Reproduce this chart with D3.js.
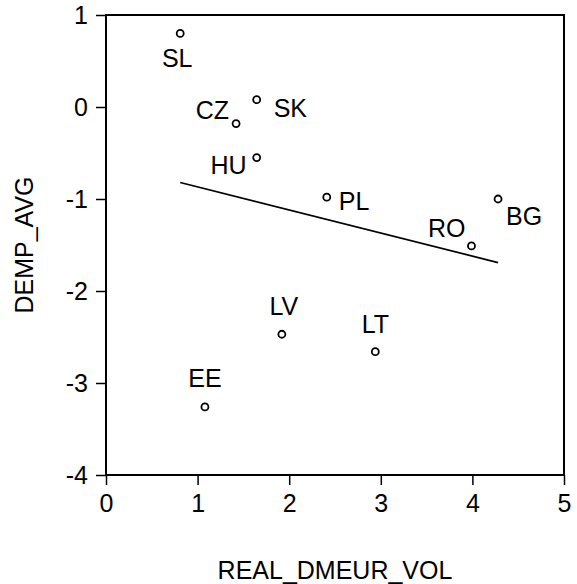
<!DOCTYPE html>
<html>
<head>
<meta charset="utf-8">
<script src="https://cdn.jsdelivr.net/npm/d3@7"></script>
<style>
  body { margin: 0; background: #fff; }
  text { font-family: "Liberation Sans", Arial, sans-serif; fill: #000; }
</style>
</head>
<body>
<svg id="chart" width="577" height="584"></svg>
<script>
// Data
let countries = ['SL', 'SK', 'CZ', 'HU', 'PL', 'BG', 'RO', 'LV', 'LT', 'EE']
let realDmeurVol = [0.81, 1.645, 1.42, 1.645, 2.41, 4.28, 3.99, 1.92, 2.94, 1.08]
let dempAvg = [0.80, 0.08, -0.18, -0.55, -0.98, -1.00, -1.51, -2.47, -2.66, -3.26]
let xTicks = [0, 1, 2, 3, 4, 5]
let yTicks = [1, 0, -1, -2, -3, -4]

// where each label sits relative to its point
let labelPlace = {
  SL: { dx: -3, dy: 34, anchor: 'middle' },
  SK: { dx: 17, dy: 17, anchor: 'start' },
  CZ: { dx: -7, dy: -5, anchor: 'end' },
  HU: { dx: -10, dy: 16, anchor: 'end' },
  PL: { dx: 12, dy: 13, anchor: 'start' },
  BG: { dx: 8, dy: 26, anchor: 'start' },
  RO: { dx: -6, dy: -9, anchor: 'end' },
  LV: { dx: 2, dy: -19, anchor: 'middle' },
  LT: { dx: 0, dy: -19, anchor: 'middle' },
  EE: { dx: 0, dy: -20, anchor: 'middle' }
}

let plotLeft = 106, plotRight = 564, plotTop = 15, plotBottom = 475
let fontSize = 25

var svg = d3.select('#chart')

var x = d3.scaleLinear().domain([0, 5]).range([plotLeft, plotRight])
var y = d3.scaleLinear().domain([-4, 1]).range([plotBottom, plotTop])

// plain integers with an ascii hyphen for negatives
var fmt = d => String(d)

// Axes with outward ticks
var xAxis = d3.axisBottom(x).tickValues(xTicks).tickFormat(fmt).tickSize(10).tickSizeOuter(0).tickPadding(9)
var yAxis = d3.axisLeft(y).tickValues(yTicks).tickFormat(fmt).tickSize(10).tickSizeOuter(0).tickPadding(8)

var gx = svg.append('g').attr('transform', 'translate(0,' + plotBottom + ')').call(xAxis)
var gy = svg.append('g').attr('transform', 'translate(' + plotLeft + ',0)').call(yAxis)

;[gx, gy].forEach(g => {
  g.select('.domain').remove()
  g.selectAll('line').attr('stroke', '#000').attr('stroke-width', 1.5)
  g.selectAll('text').style('font-size', fontSize + 'px').attr('fill', '#000')
})

// Plot frame
svg.append('rect')
  .attr('x', plotLeft).attr('y', plotTop)
  .attr('width', plotRight - plotLeft).attr('height', plotBottom - plotTop)
  .attr('fill', 'none').attr('stroke', '#000').attr('stroke-width', 2)

// Least squares fit line
let mx = d3.mean(realDmeurVol), my = d3.mean(dempAvg)
let sxy = d3.sum(realDmeurVol, (v, i) => (v - mx) * (dempAvg[i] - my))
let sxx = d3.sum(realDmeurVol, v => (v - mx) * (v - mx))
let slope = sxy / sxx
let intercept = my - slope * mx
let xExt = d3.extent(realDmeurVol)

svg.append('path')
  .datum(xExt)
  .attr('d', d3.line().x(d => x(d)).y(d => y(intercept + slope * d)))
  .attr('fill', 'none').attr('stroke', '#000').attr('stroke-width', 1.7)

// Points
var pts = countries.map((c, i) => ({ name: c, xv: realDmeurVol[i], yv: dempAvg[i] }))

svg.selectAll('circle.pt')
  .data(pts)
  .enter()
  .append('circle')
  .attr('class', 'pt')
  .attr('cx', d => x(d.xv))
  .attr('cy', d => y(d.yv))
  .attr('r', 3.5)
  .attr('fill', '#fff')
  .attr('stroke', '#000')
  .attr('stroke-width', 1.8)

svg.selectAll('text.lab')
  .data(pts)
  .enter()
  .append('text')
  .attr('class', 'lab')
  .attr('x', d => x(d.xv) + labelPlace[d.name].dx)
  .attr('y', d => y(d.yv) + labelPlace[d.name].dy)
  .attr('text-anchor', d => labelPlace[d.name].anchor)
  .style('font-size', fontSize + 'px')
  .text(d => d.name)

// Axis titles
svg.append('text')
  .attr('x', (plotLeft + plotRight) / 2)
  .attr('y', 579)
  .attr('text-anchor', 'middle')
  .style('font-size', fontSize + 'px')
  .text('REAL_DMEUR_VOL')

svg.append('text')
  .attr('transform', 'translate(33,' + ((plotTop + plotBottom) / 2) + ') rotate(-90)')
  .attr('text-anchor', 'middle')
  .style('font-size', fontSize + 'px')
  .text('DEMP_AVG')
</script>
</body>
</html>
